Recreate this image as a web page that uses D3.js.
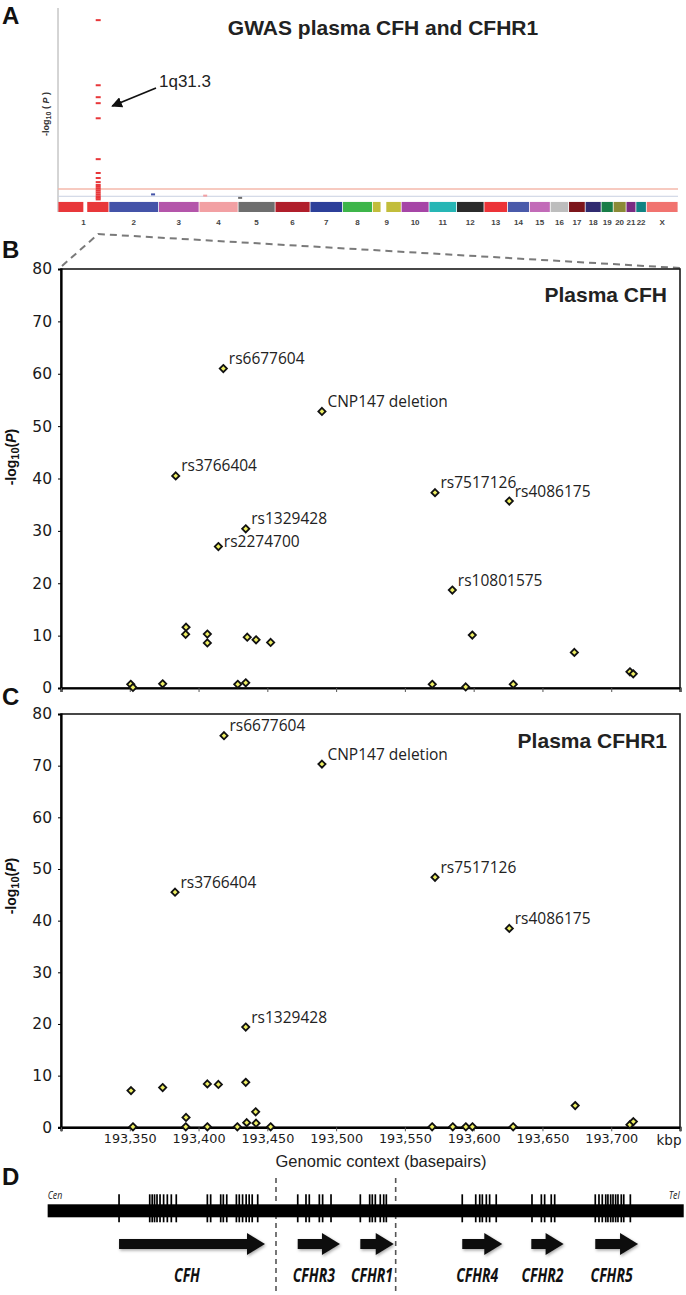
<!DOCTYPE html>
<html><head><meta charset="utf-8">
<script src="https://cdn.jsdelivr.net/npm/d3@7"></script>
<style>body{margin:0;background:#fff} svg{display:block}</style>
</head><body>
<svg id="chart" width="686" height="1295"></svg>
<script>
// ---------------- DATA ----------------
// Panel A: Manhattan overview
const chromNames = ["1","2","3","4","5","6","7","8","9","10","11","12","13","14","15","16","17","18","19","20","21","22","X"];
const chromLenMb = [249,243,198,191,181,171,159,146,141,136,135,134,115,107,102,90,81,78,59,63,48,51,155];
const chromColors = ["#e8373a","#4453a8","#b455aa","#f2a0a3","#6e6e6e","#b01e2b","#2c3f99","#3db54a","#c2bd3b","#a645a6","#26b6b5","#2b2b2b","#ec3338","#4a5aaa","#c26bb8","#bdbdbd","#7c151b","#302b70","#187d48","#8b8a36","#7a2b82","#118383","#f1736f"];
const centromereGaps = [["1",124,143],["9",40,68]];
const backgroundMaxLogP = 3.2;
const chr1HitMb = 196.7;
const chr1HitLogP = [61.0,40.3,36.5,34.6,29.8,16.8,12.4,10.8,9.5,8.6,8.0,7.4,6.8,6.2,5.6,5.0,4.5,4.0];
const otherHitChrom = ["2","4","5"];
const otherHitMb = [216,30,10];
const otherHitLogP = [5.6,5.2,4.5];
const genomeWideLogP = 7.3;
const suggestiveLogP = 5;

// Panel B: plasma CFH
const cfhKbp = [193350.7,193352.3,193373.9,193383.4,193390.9,193390.6,193406.4,193406.4,193414.4,193418.0,193428.5,193434.3,193434.3,193435.4,193441.8,193452.4,193489.7,193569.9,193571.9,193584.5,193594.2,193599.0,193625.9,193628.8,193673.2,193713.6,193716.0];
const cfhLogP = [0.7,0.1,0.8,40.5,11.6,10.25,10.3,8.6,27.0,61.0,0.7,1.0,30.4,9.7,9.2,8.7,52.8,0.7,37.3,18.7,0.2,10.1,35.7,0.7,6.8,3.1,2.7];
const cfhLabels = ["","","","rs3766404","","","","","rs2274700","rs6677604","","","rs1329428","","","","CNP147 deletion","","rs7517126","rs10801575","","","rs4086175","","","",""];

// Panel C: plasma CFHR1
const cfhr1Kbp = [193350.9,193352.3,193373.9,193382.9,193390.9,193390.7,193406.4,193406.4,193414.4,193418.5,193428.2,193434.3,193434.3,193435.0,193441.5,193441.8,193452.4,193489.7,193569.8,193571.9,193584.8,193594.3,193599.1,193625.9,193628.7,193673.8,193713.6,193716.1];
const cfhr1LogP = [7.1,0.1,7.7,45.5,1.9,0.1,8.4,0.1,8.3,75.8,0.1,19.4,8.7,0.9,3.0,0.8,0.1,70.3,0.1,48.4,0.1,0.1,0.1,38.5,0.1,4.2,0.5,1.1];
const cfhr1Labels = ["","","","rs3766404","","","","","","rs6677604","","rs1329428","","","","","","CNP147 deletion","","rs7517126","","","","rs4086175","","","",""];

const xTicksKbp = [193300,193350,193400,193450,193500,193550,193600,193650,193700,193750];
const yTicks = [0,10,20,30,40,50,60,70,80];

// Panel D: gene structure
const regionKbp = [193290.3,193752.7];
const geneNames = ["CFH","CFHR3","CFHR1","CFHR4","CFHR2","CFHR5"];
const geneStartKbp = [193342.2,193472.1,193517.6,193591.7,193641.9,193688.4];
const geneEndKbp = [193448.3,193502.8,193541.9,193620.8,193665.4,193719.5];
const exonKbp = [193342.2,193364.5,193366.3,193368.0,193369.8,193372.0,193374.6,193377.3,193380.2,193383.8,
  193406.4,193408.8,193416.1,193418.0,193420.5,193427.5,193429.6,193432.0,193434.6,193436.8,193439.0,193443.0,
  193472.1,193478.1,193480.5,193487.8,193490.2,193496.3,
  193517.6,193524.4,193526.3,193528.5,193532.1,193534.6,193536.5,
  193591.7,193601.5,193604.4,193606.3,193609.2,193611.6,193616.4,
  193642.4,193649.2,193651.6,193656.4,193658.9,
  193688.4,193691.1,193693.5,193696.0,193697.6,193699.6,193701.3,193703.2,193704.9,193707.3,193709.1,193713.9];
const deletionBoundsKbp = [193456.3,193543.3];

// ---------------- DRAW ----------------
const svg = d3.select("#chart");
const defs = svg.append("defs");
const f = defs.append("filter").attr("id","shadow").attr("x","-20%").attr("y","-60%").attr("width","140%").attr("height","220%");
f.append("feDropShadow").attr("dx",1).attr("dy",1.5).attr("stdDeviation",1.8).attr("flood-color","#000").attr("flood-opacity",0.35);

const panelLabel = (t,x,y)=>svg.append("text").attr("x",x).attr("y",y).text(t)
  .attr("font-family","Liberation Sans, Arial, sans-serif").attr("font-weight","bold").attr("font-size",24).attr("fill","#111");

// ---- Panel A ----
const cum = d3.cumsum(chromLenMb);
const chromStart = chromLenMb.map((d,i)=>cum[i]-d);
const xA = d3.scaleLinear().domain([0,cum[cum.length-1]]).range([58,678]);
const yA = d3.scaleLinear().domain([0,62]).range([212,17]);
const gA = svg.append("g");
gA.append("line").attr("x1",58).attr("x2",58).attr("y1",8).attr("y2",212).attr("stroke","#aaa").attr("stroke-width",1);
gA.append("line").attr("x1",58).attr("x2",678).attr("y1",yA(genomeWideLogP)).attr("y2",yA(genomeWideLogP)).attr("stroke","#f5b9ab").attr("stroke-width",1.6);
gA.append("line").attr("x1",58).attr("x2",678).attr("y1",yA(suggestiveLogP)).attr("y2",yA(suggestiveLogP)).attr("stroke","#c9d0e2").attr("stroke-width",1);
gA.selectAll("rect.chr").data(chromNames).join("rect").attr("class","chr")
  .attr("x",(d,i)=>xA(chromStart[i])+0.4).attr("width",(d,i)=>xA(cum[i])-xA(chromStart[i])-0.8)
  .attr("y",yA(backgroundMaxLogP)).attr("height",yA(0)-yA(backgroundMaxLogP)).attr("fill",(d,i)=>chromColors[i]);
gA.selectAll("rect.gap").data(centromereGaps).join("rect").attr("class","gap")
  .attr("x",d=>xA(chromStart[chromNames.indexOf(d[0])]+d[1])).attr("width",d=>xA(d[2])-xA(d[1]))
  .attr("y",yA(backgroundMaxLogP)-1).attr("height",yA(0)-yA(backgroundMaxLogP)+2).attr("fill","#fff");
const hitX = xA(chromStart[0]+chr1HitMb);
gA.selectAll("rect.hit").data(chr1HitLogP).join("rect").attr("class","hit")
  .attr("x",hitX-2.5).attr("width",5).attr("y",d=>yA(d)-1).attr("height",2).attr("fill","#e8373a");
gA.selectAll("rect.oh").data(otherHitChrom).join("rect").attr("class","oh")
  .attr("x",(d,i)=>xA(chromStart[chromNames.indexOf(d)]+otherHitMb[i])-2).attr("width",4)
  .attr("y",(d,i)=>yA(otherHitLogP[i])-1).attr("height",2).attr("fill",(d)=>chromColors[chromNames.indexOf(d)]);
gA.selectAll("text.cl").data(chromNames).join("text").attr("class","cl")
  .attr("x",(d,i)=>xA(chromStart[i]+chromLenMb[i]/2)).attr("y",225).attr("text-anchor","middle")
  .attr("font-family","Liberation Sans, Arial, sans-serif").attr("font-weight","bold").attr("font-size",8).attr("fill","#444").text(d=>d);
gA.append("text").attr("x",383).attr("y",35).attr("text-anchor","middle")
  .attr("font-family","Liberation Sans, Arial, sans-serif").attr("font-weight","bold").attr("font-size",21).attr("fill","#222")
  .text("GWAS plasma CFH and CFHR1");
const ylA = gA.append("text").attr("transform","translate(49,114) rotate(-90)").attr("text-anchor","middle")
  .attr("font-family","Liberation Sans, Arial, sans-serif").attr("font-weight","bold").attr("font-size",9).attr("fill","#333");
ylA.append("tspan").text("-log");
ylA.append("tspan").attr("font-size",7).attr("dy",2).text("10");
ylA.append("tspan").attr("dy",-2).text(" ( ");
ylA.append("tspan").attr("font-style","italic").text("P");
ylA.append("tspan").text(" )");
gA.append("text").attr("x",159).attr("y",87).attr("font-family","Liberation Sans, Arial, sans-serif").attr("font-size",17).attr("fill","#222").text("1q31.3");
defs.append("marker").attr("id","ah").attr("viewBox","0 0 10 10").attr("refX",9).attr("refY",5).attr("markerWidth",6).attr("markerHeight",6).attr("orient","auto")
  .append("path").attr("d","M0,0 L10,5 L0,10 Z").attr("fill","#111");
gA.append("line").attr("x1",156).attr("y1",88).attr("x2",hitX+14).attr("y2",106).attr("stroke","#111").attr("stroke-width",1.8).attr("marker-end","url(#ah)");
panelLabel("A",2,24);

// ---- Panels B & C ----
const x = d3.scaleLinear().domain([193300,193750]).range([61,680]);
const yB = d3.scaleLinear().domain([0,80]).range([688,269]);
const yC = d3.scaleLinear().domain([0,80]).range([1127.3,714]);

// zoom connector
svg.append("path").attr("d",d3.line()([[x(193300)+1,yB(80)-3],[hitX,234],[x(193750),yB(80)-1]]))
  .attr("fill","none").attr("stroke","#7a7a7a").attr("stroke-width",2).attr("stroke-dasharray","7,5");

// label placement style: default up-right of the marker, one label sits level with its marker
const labelDyOverride = {"rs2274700": 0.5};

function scatterPanel(y, kbp, vals, labels, title, titleY, showXLabels, yTitleY){
  const g = svg.append("g");
  g.append("rect").attr("x",x(193300)).attr("y",y(80)).attr("width",x(193750)-x(193300)).attr("height",y(0)-y(80))
    .attr("fill","none").attr("stroke","#1a1a1a").attr("stroke-width",1.6);
  const ya = g.append("g").attr("transform",`translate(${x(193300)},0)`)
    .call(d3.axisLeft(y).tickValues(yTicks).tickSize(3).tickPadding(6));
  ya.select(".domain").attr("stroke","#000").attr("stroke-width",2.2);
  ya.selectAll("text").attr("font-family","DejaVu Sans, Verdana, sans-serif").attr("font-size",15.5).attr("fill","#1a1a1a");
  const xa = g.append("g").attr("transform",`translate(0,${y(0)})`)
    .call(d3.axisBottom(x).tickValues(xTicksKbp).tickSize(4).tickPadding(3)
      .tickFormat(d=> (!showXLabels || d===193300 || d===193750) ? "" : d3.format(",")(d)));
  xa.select(".domain").attr("stroke","#000").attr("stroke-width",2.2);
  xa.selectAll("line").attr("stroke","#555");
  xa.selectAll("text").attr("font-family","DejaVu Sans, Verdana, sans-serif").attr("font-size",12.8).attr("fill","#1a1a1a");
  const pts = kbp.map((k,i)=>({k, v:vals[i], l:labels[i]}));
  g.selectAll("path.pt").data(pts).join("path").attr("class","pt")
    .attr("transform",d=>`translate(${x(d.k)},${y(d.v)})`)
    .attr("d","M0,-3.6L3.6,0L0,3.6L-3.6,0Z")
    .attr("fill","#eeee62").attr("stroke","#111").attr("stroke-width",1.8);
  g.selectAll("text.lab").data(pts.filter(d=>d.l)).join("text").attr("class","lab")
    .attr("x",d=>x(d.k)+5.5).attr("y",d=>y(d.v)+(d.l in labelDyOverride ? labelDyOverride[d.l] : -4.5))
    .attr("font-family","Open Sans, Noto Sans, sans-serif").attr("font-size",15.5).attr("fill","#222").text(d=>d.l);
  g.append("text").attr("x",667).attr("y",titleY).attr("text-anchor","end")
    .attr("font-family","Liberation Sans, Arial, sans-serif").attr("font-weight","bold").attr("font-size",21).attr("fill","#222").text(title);
  const yt = g.append("text").attr("transform",`translate(16,${yTitleY}) rotate(-90)`).attr("text-anchor","middle")
    .attr("font-family","Liberation Sans, Arial, sans-serif").attr("font-weight","bold").attr("font-size",14).attr("fill","#111");
  yt.append("tspan").text("-log");
  yt.append("tspan").attr("font-size",11).attr("dy",3).text("10");
  yt.append("tspan").attr("dy",-3).text("(");
  yt.append("tspan").attr("font-style","italic").text("P");
  yt.append("tspan").text(")");
  return g;
}
scatterPanel(yB, cfhKbp, cfhLogP, cfhLabels, "Plasma CFH", 302, false, 457);
scatterPanel(yC, cfhr1Kbp, cfhr1LogP, cfhr1Labels, "Plasma CFHR1", 748, true, 886);
panelLabel("B",2,258);
panelLabel("C",2,705);

svg.append("text").attr("x",669).attr("y",1145).attr("text-anchor","middle")
  .attr("font-family","DejaVu Sans, Verdana, sans-serif").attr("font-size",13.5).attr("fill","#1a1a1a").text("kbp");
svg.append("text").attr("x",381).attr("y",1167).attr("text-anchor","middle")
  .attr("font-family","Liberation Sans, Arial, sans-serif").attr("font-size",16.5).attr("fill","#222").text("Genomic context (basepairs)");

// ---- Panel D ----
panelLabel("D",2,1185);
const gD = svg.append("g");
gD.selectAll("line.del").data(deletionBoundsKbp).join("line").attr("class","del")
  .attr("x1",d=>x(d)).attr("x2",d=>x(d)).attr("y1",1178).attr("y2",1295)
  .attr("stroke","#555").attr("stroke-width",1.6).attr("stroke-dasharray","5,4");
gD.append("rect").attr("x",x(regionKbp[0])).attr("width",x(regionKbp[1])-x(regionKbp[0]))
  .attr("y",1204.3).attr("height",13).attr("fill","#000");
gD.selectAll("line.ex").data(exonKbp).join("line").attr("class","ex")
  .attr("x1",d=>x(d)).attr("x2",d=>x(d)).attr("y1",1194.3).attr("y2",1222.3).attr("stroke","#000").attr("stroke-width",1.7);
const cond = "Open Sans, Noto Sans, sans-serif";
gD.append("text").attr("transform",`translate(${x(regionKbp[0])},1199) scale(0.8,1)`)
  .attr("font-family",cond).attr("font-style","italic").attr("font-size",11).attr("fill","#222").text("Cen");
gD.append("text").attr("transform",`translate(${x(regionKbp[1])-4},1199) scale(0.8,1)`).attr("text-anchor","end")
  .attr("font-family",cond).attr("font-style","italic").attr("font-size",11).attr("fill","#222").text("Tel");
const headLen = 18, shaftH = 5, headH = 11, arrowY = 1244;
gD.selectAll("path.gene").data(geneNames).join("path").attr("class","gene")
  .attr("d",(d,i)=>{
    const x0 = x(geneStartKbp[i]), x1 = x(geneEndKbp[i]), xh = x1-headLen;
    return `M${x0},${arrowY-shaftH}L${xh},${arrowY-shaftH}L${xh},${arrowY-headH}L${x1},${arrowY}L${xh},${arrowY+headH}L${xh},${arrowY+shaftH}L${x0},${arrowY+shaftH}Z`;
  }).attr("fill","#111").attr("filter","url(#shadow)");
gD.selectAll("text.gn").data(geneNames).join("text").attr("class","gn")
  .attr("transform",(d,i)=>`translate(${(x(geneStartKbp[i])+x(geneEndKbp[i]))/2-5},1282) scale(0.72,1)`)
  .attr("text-anchor","middle").attr("font-family",cond).attr("font-weight","bold").attr("font-style","italic")
  .attr("font-size",19.5).attr("fill","#111").text(d=>d);
</script>
</body></html>
